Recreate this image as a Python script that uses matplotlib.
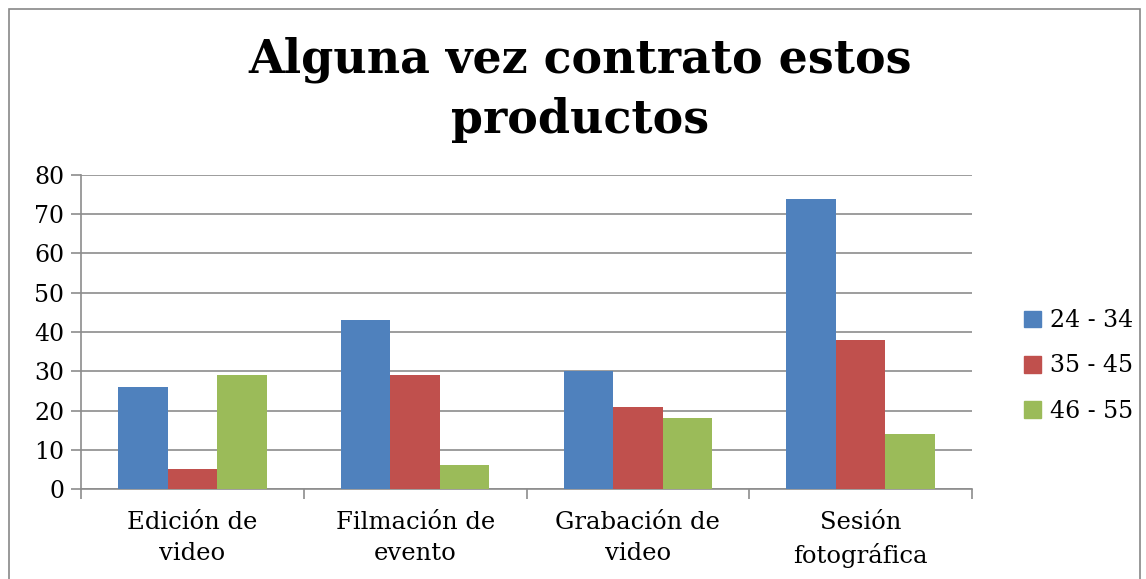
import matplotlib.pyplot as plt
import matplotlib.patches as mpatches
import numpy as np

categories = ["Edición de\nvideo", "Filmación de\nevento", "Grabación de\nvideo", "Sesión\nfotográfica"]
series_names = ["24 - 34", "35 - 45", "46 - 55"]
s_24_34 = [26, 43, 30, 74]
s_35_45 = [5, 29, 21, 38]
s_46_55 = [29, 6, 18, 14]
colors = ["#4f81bd", "#c0504d", "#9bbb59"]

plt.rcParams['font.family'] = ['DejaVu Serif']

fig = plt.figure(figsize=(11.46, 5.79), dpi=100)
fig.patch.set_facecolor('white')

# chart frame
frame = mpatches.Rectangle((9 / 1146, -0.05), 1131 / 1146, 1 - 9 / 579 + 0.05,
                           transform=fig.transFigure, fill=False,
                           edgecolor='#888888', linewidth=1.2)
fig.patches.append(frame)

ax = fig.add_axes([81 / 1146, 1 - 489 / 579, (972 - 81) / 1146, (489 - 175) / 579])

x = np.arange(len(categories))
w = 0.222
for i, vals in enumerate([s_24_34, s_35_45, s_46_55]):
    ax.bar(x + (i - 1) * w, vals, width=w, color=colors[i], label=series_names[i], zorder=3)

ax.set_xlim(-0.5, len(categories) - 0.5)
ax.set_ylim(0, 80)
ax.set_yticks(range(0, 81, 10))
ax.yaxis.grid(True, color='#8c8c8c', linewidth=1.2, zorder=0)
ax.set_xticks(x)
ax.set_xticklabels(categories, fontsize=17.5, linespacing=1.45)
ax.set_xticks(np.arange(-0.5, len(categories)), minor=True)
ax.tick_params(axis='x', which='major', length=0, pad=16)
ax.tick_params(axis='x', which='minor', length=7, color='#8c8c8c', width=1.2)
ax.tick_params(axis='y', length=7, color='#8c8c8c', width=1.2, labelsize=17, pad=5)
for s in ['top', 'right']:
    ax.spines[s].set_visible(False)
for s in ['left', 'bottom']:
    ax.spines[s].set_color('#8c8c8c')
    ax.spines[s].set_linewidth(1.2)

fig.text(0.506, 1 - 90 / 579, "Alguna vez contrato estos\nproductos", ha='center', va='center',
         fontsize=33, fontweight='bold', linespacing=1.4)

handles = [mpatches.Patch(color=c) for c in colors]
fig.legend(handles, series_names, loc='center left', bbox_to_anchor=(1003 / 1146, 1 - 366 / 579),
           frameon=False, fontsize=17, handlelength=0.7, handleheight=0.7,
           handletextpad=0.4, labelspacing=0.95)

fig.savefig('out.png', dpi=100)
